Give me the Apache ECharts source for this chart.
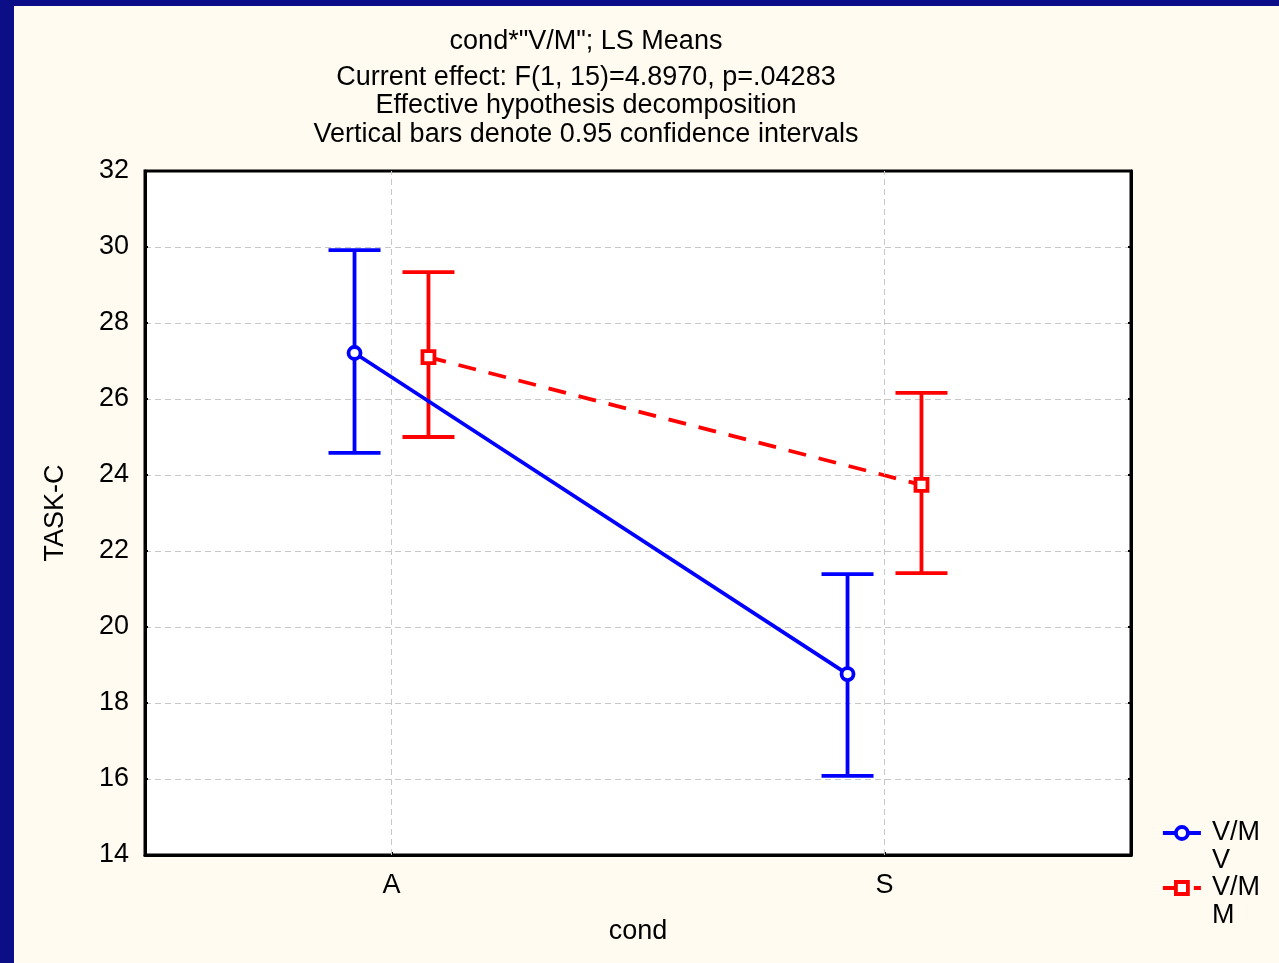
<!DOCTYPE html>
<html>
<head>
<meta charset="utf-8">
<script src="https://cdn.jsdelivr.net/npm/echarts@6/dist/echarts.min.js"></script>
<style>
  html, body { margin: 0; padding: 0; background: #0C0E87; width: 1279px; height: 963px; overflow: hidden; }
  #chart { position: absolute; left: 14px; top: 6px; width: 1265px; height: 957px; background: #FFFBF0; }
</style>
</head>
<body>
<div id="chart"></div>
<script>
const categories = ['A', 'S'];
const yTicks = { min: 14, max: 32, step: 2 };
const titleText = 'cond*"V/M"; LS Means';
const subtitleLines = [
  'Current effect: F(1, 15)=4.8970, p=.04283',
  'Effective hypothesis decomposition',
  'Vertical bars denote 0.95 confidence intervals'
];
const seriesNames = ['V/M\nV', 'V/M\nM'];
const vMean = [27.21, 18.76];
const vLow  = [24.58, 16.08];
const vHigh = [29.92, 21.39];
const mMean = [27.10, 23.74];
const mLow  = [25.00, 21.42];
const mHigh = [29.34, 26.16];

const FONT = "'Liberation Sans', Arial, sans-serif";
const FS = 27;
const BLUE = '#0000FF', RED = '#FF0000';
const LW = 3.8;
const OFFSET = 0.075; // horizontal dodge within a category, in category units

function xPos(i, side) { return i + 0.5 + side * OFFSET; }
function linePoints(means, side) { return means.map((v, i) => [xPos(i, side), v]); }
function errPoints(lo, hi, side) { return lo.map((v, i) => [xPos(i, side), v, hi[i]]); }

function renderErr(color) {
  return function (params, api) {
    const x = api.value(0), lo = api.value(1), hi = api.value(2);
    const pLo = api.coord([x, lo]), pHi = api.coord([x, hi]);
    const hw = 26;
    const style = { stroke: color, lineWidth: LW };
    return { type: 'group', children: [
      { type: 'line', shape: { x1: pLo[0], y1: pLo[1], x2: pHi[0], y2: pHi[1] }, style },
      { type: 'line', shape: { x1: pLo[0] - hw, y1: pLo[1], x2: pLo[0] + hw, y2: pLo[1] }, style },
      { type: 'line', shape: { x1: pHi[0] - hw, y1: pHi[1], x2: pHi[0] + hw, y2: pHi[1] }, style }
    ]};
  };
}

const chart = echarts.init(document.getElementById('chart'), null, { renderer: 'canvas' });
chart.setOption({
  animation: false,
  textStyle: { fontFamily: FONT },
  title: {
    left: 567, top: 17, textAlign: 'center',
    text: titleText,
    subtext: subtitleLines.join('\n'),
    itemGap: 7,
    textStyle: { fontFamily: FONT, fontSize: FS, fontWeight: 'normal', color: '#000', lineHeight: 28 },
    subtextStyle: { fontFamily: FONT, fontSize: FS, color: '#000', lineHeight: 28.5 }
  },
  grid: { left: 131, top: 165, width: 986, height: 684, show: true, backgroundColor: '#FFFFFF', borderColor: '#000', borderWidth: 3 },
  legend: {
    orient: 'vertical', left: 1142, top: 780,
    itemWidth: 38, itemHeight: 15, itemGap: -29,
    data: seriesNames,
    formatter: name => ' \n' + name,
    lineStyle: { width: LW },
    itemStyle: { borderWidth: LW },
    textStyle: { fontFamily: FONT, fontSize: FS, color: '#000', lineHeight: 28, padding: [0, 0, 0, 6] }
  },
  xAxis: [
    {
      type: 'category', data: categories, position: 'bottom',
      name: 'cond', nameLocation: 'middle', nameGap: 63,
      nameTextStyle: { fontFamily: FONT, fontSize: FS, color: '#000' },
      axisLine: { lineStyle: { color: '#000', width: 3 } },
      axisTick: { show: true, inside: true, length: 3, alignWithLabel: true, lineStyle: { color: '#000', width: 2 } },
      axisLabel: { fontFamily: FONT, fontSize: FS, color: '#000', margin: 17 },
      splitLine: { show: false }
    },
    { type: 'value', min: 0, max: categories.length, show: false }
  ],
  yAxis: [
    {
      type: 'value', min: yTicks.min, max: yTicks.max, interval: yTicks.step,
      name: 'TASK-C', nameLocation: 'middle', nameGap: 76,
      nameTextStyle: { fontFamily: FONT, fontSize: FS, color: '#000' },
      axisLine: { show: true, lineStyle: { color: '#000', width: 3 } },
      axisTick: { show: true, inside: true, length: 3, lineStyle: { color: '#000', width: 2 } },
      axisLabel: { fontFamily: FONT, fontSize: FS, color: '#000', margin: 16, padding: [4, 0, 0, 0] },
      splitLine: { show: true, showMinLine: false, showMaxLine: false, lineStyle: { color: '#C8C8C8', width: 1, type: [6, 4] } }
    },
    {
      type: 'value', min: yTicks.min, max: yTicks.max, interval: yTicks.step, position: 'right',
      axisLine: { show: true, lineStyle: { color: '#000', width: 3 } },
      axisTick: { show: true, inside: true, length: 3, lineStyle: { color: '#000', width: 2 } },
      axisLabel: { show: false }, splitLine: { show: false }
    }
  ],
  series: [
    {
      name: 'CI M', type: 'custom', xAxisIndex: 1, yAxisIndex: 0,
      renderItem: renderErr(RED), data: errPoints(mLow, mHigh, 1), silent: true,
      markLine: {
        silent: true, symbol: 'none', label: { show: false },
        lineStyle: { color: '#C8C8C8', width: 1, type: [6, 4] },
        data: categories.map((c, i) => ({ xAxis: i + 0.5 }))
      }
    },
    {
      name: 'CI V', type: 'custom', xAxisIndex: 1, yAxisIndex: 0,
      renderItem: renderErr(BLUE), data: errPoints(vLow, vHigh, -1), silent: true
    },
    {
      name: seriesNames[1], type: 'line', xAxisIndex: 1, yAxisIndex: 0,
      data: linePoints(mMean, 1),
      symbol: 'rect', symbolSize: 12,
      color: RED,
      lineStyle: { color: RED, width: LW, type: [18, 13] },
      itemStyle: { color: '#FFFFFF', borderColor: RED, borderWidth: LW }
    },
    {
      name: seriesNames[0], type: 'line', xAxisIndex: 1, yAxisIndex: 0,
      data: linePoints(vMean, -1),
      symbol: 'circle', symbolSize: 12,
      color: BLUE,
      lineStyle: { color: BLUE, width: LW },
      itemStyle: { color: '#FFFFFF', borderColor: BLUE, borderWidth: LW }
    }
  ]
});
</script>
</body>
</html>
